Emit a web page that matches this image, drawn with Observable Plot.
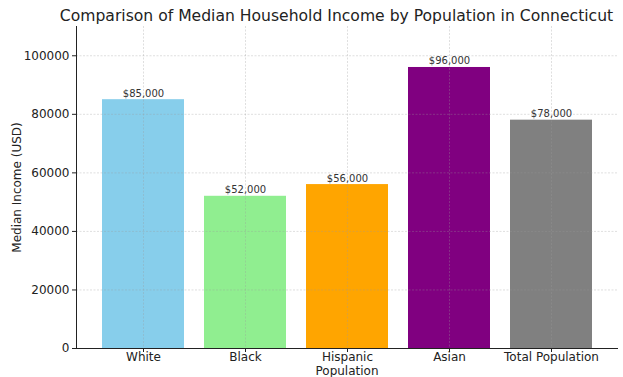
<!DOCTYPE html>
<html><head><meta charset="utf-8">
<script src="https://cdn.jsdelivr.net/npm/d3@7"></script>
<script src="https://cdn.jsdelivr.net/npm/@observablehq/plot@0.6"></script>
<style>
html,body{margin:0;padding:0;background:#fff;}
svg{display:block;}
</style></head><body><div id="chart"></div>
<script>
const categories = ["White", "Black", "Hispanic", "Asian", "Total Population"];
const incomes = [85000, 52000, 56000, 96000, 78000];
const yTicks = [0, 20000, 40000, 60000, 80000, 100000];
const titleText = "Comparison of Median Household Income by Population in Connecticut";
const yLabel = "Median Income (USD)";
const xLabel = "Population";
const barColors = ["#87CEEB", "#90EE90", "#FFA500", "#800080", "#808080"];

const data = categories.map((c, i) => ({category: c, income: incomes[i]}));
const fmt = d3.format(",");

const chart = Plot.plot({
  width: 623, height: 377,
  marginLeft: 76, marginRight: 6, marginTop: 26, marginBottom: 29,
  style: {fontFamily: "'DejaVu Sans', sans-serif", fontSize: "12px", color: "#222", background: "white"},
  x: {domain: categories, type: "band", paddingInner: 0.2, paddingOuter: 0.24, label: null},
  y: {domain: [0, 110000], label: null},
  color: {domain: categories, range: barColors},
  marks: [
    Plot.barY(data, {x: "category", y: "income", fill: "category"}),
    Plot.gridY(yTicks, {stroke: "#999", strokeOpacity: 0.4, strokeDasharray: "2,1.5", strokeWidth: 0.8}),
    Plot.gridX(categories, {stroke: "#999", strokeOpacity: 0.4, strokeDasharray: "2,1.5", strokeWidth: 0.8}),
    Plot.axisY(yTicks, {tickSize: 4, tickPadding: 3, tickFormat: d3.format("d"), label: null, fontSize: 12}),
    Plot.axisX({tickSize: 4, tickPadding: 0, label: null, fontSize: 12}),
    Plot.frame({anchor: "left", stroke: "#222", strokeOpacity: 1}),
    Plot.frame({anchor: "bottom", stroke: "#222", strokeOpacity: 1}),
    Plot.text(data, {x: "category", y: "income", text: d => "$" + fmt(d.income), lineAnchor: "bottom", dy: -3, fontSize: 10, fill: "#333"}),
    Plot.text([yLabel], {frameAnchor: "left", textAnchor: "middle", lineAnchor: "middle", dx: -59, rotate: -90, fontSize: 12, fill: "#222"}),
    Plot.text([xLabel], {frameAnchor: "bottom", lineAnchor: "middle", dy: 23, fontSize: 12, fill: "#222"}),
    Plot.text([titleText], {frameAnchor: "top", lineAnchor: "middle", dy: -11, dx: -10.5, fontSize: 15.6, fill: "#222"})
  ]
});
document.getElementById("chart").appendChild(chart);
</script></body></html>
